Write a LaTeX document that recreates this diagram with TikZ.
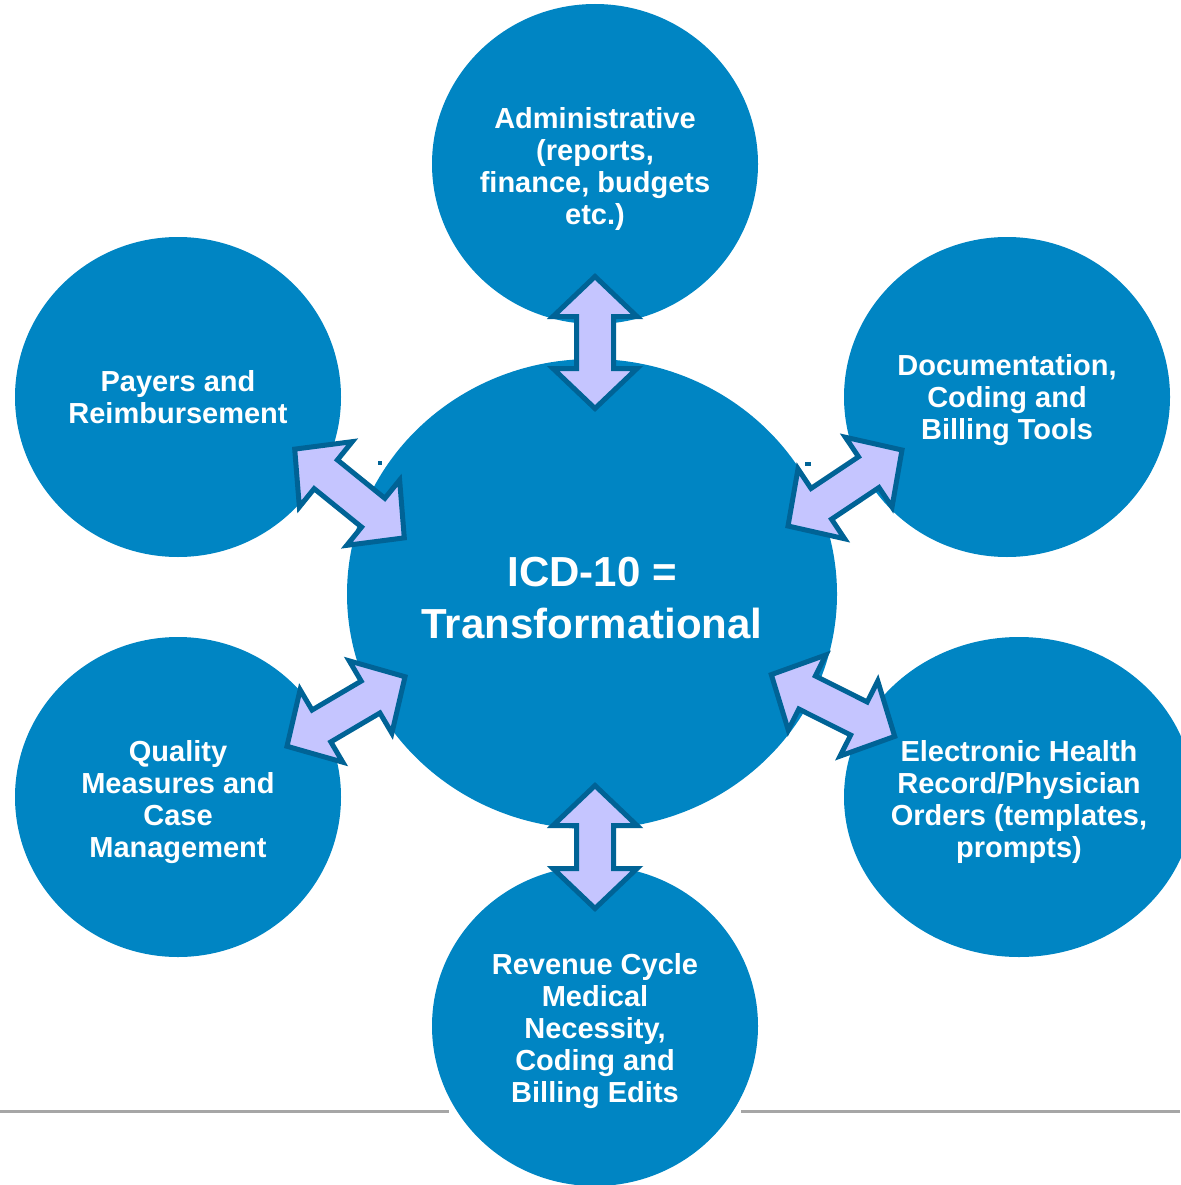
\documentclass[tikz,border=0pt]{standalone}
\usepackage{fontspec}
\setmainfont{Liberation Sans}
\usetikzlibrary{
  shapes.geometric
}
\definecolor{bubble}{RGB}{0,133,195}
\definecolor{arrowfill}{RGB}{197,197,255}
\definecolor{arrowedge}{RGB}{0,99,150}
\definecolor{rulegray}{RGB}{166,166,166}
\tikzset{
  x=1pt, y=-1pt,
  bubble/.style={ellipse, fill=bubble, draw=none, inner sep=0pt,
    minimum width=326pt, minimum height=320pt},
  hub/.style={bubble, minimum width=490pt, minimum height=470pt},
  txt/.style={text=white, align=center, yshift=-5pt,
    font=\fontsize{29}{32}\selectfont\bfseries},
  bigtxt/.style={txt, yshift=1pt, font=\fontsize{42}{52}\selectfont\bfseries},
  pics/biarrow/.style={code={
    \draw[line width=5pt, draw=arrowedge, fill=arrowfill, miter limit=10]
      (-#1,0) -- (-#1+40,42) -- (-#1+40,18.5) -- (#1-40,18.5) -- (#1-40,42)
      -- (#1,0) -- (#1-40,-42) -- (#1-40,-18.5) -- (-#1+40,-18.5)
      -- (-#1+40,-42) -- cycle;
  }}
}
\begin{document}
\begin{tikzpicture}
  \useasboundingbox (0,0) rectangle (1180,1185);
  \draw[rulegray, line width=3pt] (0,1111) -- (449,1111);
  \draw[rulegray, line width=3pt] (741,1111) -- (1180,1111);

  \node[hub] (icd) at (592,594) {};
  \node[bubble] (admin) at (595,164) {};
  \node[bubble] (payers) at (178,397) {};
  \node[bubble] (docs) at (1007,397) {};
  \node[bubble] (quality) at (178,797) {};
  \node[bubble, minimum width=350pt] (ehr) at (1019,797) {};
  \node[bubble] (revenue) at (595,1026) {};

  \node[bigtxt] (icdtext) at (icd) {ICD-10 =\\Transformational};
  \node[txt] (admintext) at (admin) {Administrative\\(reports,\\finance, budgets\\etc.)};
  \node[txt, yshift=5pt] (payerstext) at (payers) {Payers and\\Reimbursement};
  \node[txt, yshift=2pt] (docstext) at (docs) {Documentation,\\Coding and\\Billing Tools};
  \node[txt] (qualitytext) at (quality) {Quality\\Measures and\\Case\\Management};
  \node[txt] (ehrtext) at (ehr) {Electronic Health\\Record/Physician\\Orders (templates,\\prompts)};
  \node[txt] (revenuetext) at (revenue) {Revenue Cycle\\Medical\\Necessity,\\Coding and\\Billing Edits};

  \pic[rotate=90] (toadmin) at (595,342.5) {biarrow=66};
  \pic[rotate=90] (torevenue) at (595,847) {biarrow=61.5};
  \pic[rotate=-39] (topayers) at (349.5,493.5) {biarrow=70.5};
  \pic[rotate=33.7] (todocs) at (845,488) {biarrow=68.5};
  \pic[rotate=30.5] (toquality) at (346,711.5) {biarrow=68.5};
  \pic[rotate=-26.6] (toehr) at (833,705.5) {biarrow=69};

  \fill[arrowedge] (378,461) rectangle (382,465);
  \fill[arrowedge] (805,462) rectangle (811,466);
\end{tikzpicture}
\end{document}
